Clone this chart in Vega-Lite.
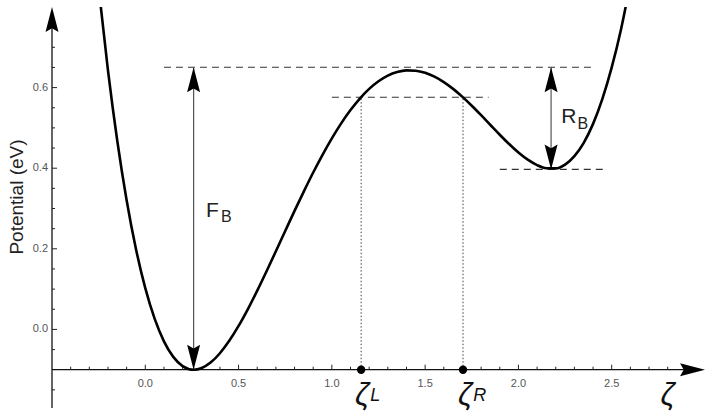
{
  "$schema": "https://vega.github.io/schema/vega-lite/v6.json",
  "width": 653,
  "height": 401,
  "autosize": {"type": "none"},
  "padding": {"left": 52, "top": 7, "right": 3, "bottom": 4},
  "background": "white",
  "config": {"view": {"stroke": null}, "text": {"font": "Liberation Sans"}},
  "datasets": {
    "curve": [
      {"x": -0.25, "y": 0.848}, {"x": -0.2, "y": 0.6427}, {"x": -0.15, "y": 0.4676}, {"x": -0.1, "y": 0.3207},
      {"x": -0.05, "y": 0.1996}, {"x": 0.0, "y": 0.1023}, {"x": 0.05, "y": 0.0266}, {"x": 0.1, "y": -0.0296},
      {"x": 0.15, "y": -0.0681}, {"x": 0.2, "y": -0.0909}, {"x": 0.26, "y": -0.1}, {"x": 0.3, "y": -0.0963},
      {"x": 0.35, "y": -0.0823}, {"x": 0.4, "y": -0.0591}, {"x": 0.45, "y": -0.0284}, {"x": 0.5, "y": 0.0086},
      {"x": 0.55, "y": 0.0506}, {"x": 0.6, "y": 0.0962}, {"x": 0.65, "y": 0.1444}, {"x": 0.7, "y": 0.194},
      {"x": 0.75, "y": 0.2442}, {"x": 0.8, "y": 0.2941}, {"x": 0.85, "y": 0.3426}, {"x": 0.9, "y": 0.3893},
      {"x": 0.95, "y": 0.4333}, {"x": 1.0, "y": 0.4742}, {"x": 1.05, "y": 0.5113}, {"x": 1.1, "y": 0.5443},
      {"x": 1.15, "y": 0.5729}, {"x": 1.2, "y": 0.5968}, {"x": 1.25, "y": 0.6158}, {"x": 1.3, "y": 0.6298},
      {"x": 1.35, "y": 0.6387}, {"x": 1.4, "y": 0.6428}, {"x": 1.45, "y": 0.642}, {"x": 1.5, "y": 0.6367},
      {"x": 1.55, "y": 0.6271}, {"x": 1.6, "y": 0.6137}, {"x": 1.65, "y": 0.5968}, {"x": 1.7, "y": 0.577},
      {"x": 1.75, "y": 0.555}, {"x": 1.8, "y": 0.5315}, {"x": 1.85, "y": 0.5072}, {"x": 1.9, "y": 0.483},
      {"x": 1.95, "y": 0.4599}, {"x": 2.0, "y": 0.4389}, {"x": 2.05, "y": 0.4211}, {"x": 2.1, "y": 0.4077},
      {"x": 2.15, "y": 0.4}, {"x": 2.2, "y": 0.3995}, {"x": 2.25, "y": 0.409}, {"x": 2.3, "y": 0.43},
      {"x": 2.35, "y": 0.463}, {"x": 2.4, "y": 0.51}, {"x": 2.45, "y": 0.572}, {"x": 2.5, "y": 0.65},
      {"x": 2.55, "y": 0.745}, {"x": 2.6, "y": 0.86}
    ],
    "hdash": [
      {"x": 0.1, "x2": 2.4, "y": 0.6506},
      {"x": 1.0, "x2": 1.84, "y": 0.576},
      {"x": 1.9, "x2": 2.46, "y": 0.397}
    ],
    "vdot": [
      {"x": 1.157, "y": -0.1, "y2": 0.576},
      {"x": 1.703, "y": -0.1, "y2": 0.576}
    ],
    "shaft": [
      {"x": 0.259, "y": -0.1, "y2": 0.6506},
      {"x": 2.175, "y": 0.397, "y2": 0.6506}
    ],
    "axes": [
      {"x": -0.5, "x2": 2.95, "y": -0.1, "y2": -0.1},
      {"x": -0.5, "x2": -0.5, "y": -0.195, "y2": 0.78}
    ],
    "heads": [
      {"x": 0.259, "y": 0.6506, "dir": "up"},
      {"x": 0.259, "y": -0.1, "dir": "down"},
      {"x": 2.175, "y": 0.6506, "dir": "up"},
      {"x": 2.175, "y": 0.397, "dir": "down"},
      {"x": -0.5, "y": 0.8, "dir": "up"},
      {"x": 3.0, "y": -0.1, "dir": "right"}
    ],
    "xminor": [
      {"x": -0.4}, {"x": -0.3}, {"x": -0.2}, {"x": -0.1}, {"x": 0.1}, {"x": 0.2}, {"x": 0.3}, {"x": 0.4},
      {"x": 0.6}, {"x": 0.7}, {"x": 0.8}, {"x": 0.9}, {"x": 1.1}, {"x": 1.2}, {"x": 1.3}, {"x": 1.4},
      {"x": 1.6}, {"x": 1.7}, {"x": 1.8}, {"x": 1.9}, {"x": 2.1}, {"x": 2.2}, {"x": 2.3}, {"x": 2.4},
      {"x": 2.6}, {"x": 2.7}, {"x": 2.8}
    ],
    "xmajor": [
      {"x": 0.0, "t": "0.0"}, {"x": 0.5, "t": "0.5"}, {"x": 1.0, "t": "1.0"},
      {"x": 1.5, "t": "1.5"}, {"x": 2.0, "t": "2.0"}, {"x": 2.5, "t": "2.5"}
    ],
    "yminor": [
      {"y": -0.15}, {"y": -0.05}, {"y": 0.05}, {"y": 0.1}, {"y": 0.15}, {"y": 0.25}, {"y": 0.3},
      {"y": 0.35}, {"y": 0.45}, {"y": 0.5}, {"y": 0.55}, {"y": 0.65}, {"y": 0.7}
    ],
    "ymajor": [
      {"y": 0.0, "t": "0.0"}, {"y": 0.2, "t": "0.2"}, {"y": 0.4, "t": "0.4"}, {"y": 0.6, "t": "0.6"}
    ],
    "dots": [{"x": 1.157}, {"x": 1.703}],
    "zeta": [{"x": 1.163, "s": "L"}, {"x": 1.715, "s": "R"}],
    "zmain": [{"x": 1.163}, {"x": 1.715}, {"x": 2.8}],
    "big": [
      {"x": 0.325, "y": 0.2796, "t": "F"},
      {"x": 2.229, "y": 0.5115, "t": "R"}
    ],
    "small": [
      {"x": 0.406, "y": 0.267, "t": "B"},
      {"x": 2.316, "y": 0.4966, "t": "B"}
    ],
    "ytitle": [{"x": -0.686, "y": 0.3285, "t": "Potential (eV)"}]
  },
  "layer": [
    {
      "data": {"name": "hdash"},
      "mark": {"type": "rule", "color": "#333", "strokeWidth": 1.1, "strokeDash": [7, 5]},
      "encoding": {
        "x": {"field": "x", "type": "quantitative", "scale": {"domain": [-0.5, 3], "nice": false, "zero": false}, "axis": null},
        "x2": {"field": "x2"},
        "y": {"field": "y", "type": "quantitative", "scale": {"domain": [-0.195, 0.8], "nice": false, "zero": false}, "axis": null}
      }
    },
    {
      "data": {"name": "vdot"},
      "mark": {"type": "rule", "color": "#444", "strokeWidth": 1, "strokeDash": [1.5, 2]},
      "encoding": {
        "x": {"field": "x", "type": "quantitative", "scale": {"domain": [-0.5, 3], "nice": false, "zero": false}, "axis": null},
        "y": {"field": "y", "type": "quantitative", "scale": {"domain": [-0.195, 0.8], "nice": false, "zero": false}, "axis": null},
        "y2": {"field": "y2"}
      }
    },
    {
      "data": {"name": "shaft"},
      "mark": {"type": "rule", "color": "#555", "strokeWidth": 1.2},
      "encoding": {
        "x": {"field": "x", "type": "quantitative", "scale": {"domain": [-0.5, 3], "nice": false, "zero": false}, "axis": null},
        "y": {"field": "y", "type": "quantitative", "scale": {"domain": [-0.195, 0.8], "nice": false, "zero": false}, "axis": null},
        "y2": {"field": "y2"}
      }
    },
    {
      "data": {"name": "axes"},
      "mark": {"type": "rule", "color": "#111", "strokeWidth": 1.3},
      "encoding": {
        "x": {"field": "x", "type": "quantitative", "scale": {"domain": [-0.5, 3], "nice": false, "zero": false}, "axis": null},
        "x2": {"field": "x2"},
        "y": {"field": "y", "type": "quantitative", "scale": {"domain": [-0.195, 0.8], "nice": false, "zero": false}, "axis": null},
        "y2": {"field": "y2"}
      }
    },
    {
      "data": {"name": "xminor"},
      "mark": {"type": "rule", "color": "#222", "strokeWidth": 1},
      "encoding": {
        "x": {"field": "x", "type": "quantitative", "scale": {"domain": [-0.5, 3], "nice": false, "zero": false}, "axis": null},
        "y": {"datum": -0.1, "type": "quantitative", "scale": {"domain": [-0.195, 0.8], "nice": false, "zero": false}, "axis": null},
        "y2": {"datum": -0.0925}
      }
    },
    {
      "data": {"name": "xmajor"},
      "mark": {"type": "rule", "color": "#222", "strokeWidth": 1},
      "encoding": {
        "x": {"field": "x", "type": "quantitative", "scale": {"domain": [-0.5, 3], "nice": false, "zero": false}, "axis": null},
        "y": {"datum": -0.1, "type": "quantitative", "scale": {"domain": [-0.195, 0.8], "nice": false, "zero": false}, "axis": null},
        "y2": {"datum": -0.0876}
      }
    },
    {
      "data": {"name": "yminor"},
      "mark": {"type": "rule", "color": "#222", "strokeWidth": 1},
      "encoding": {
        "x": {"datum": -0.5, "type": "quantitative", "scale": {"domain": [-0.5, 3], "nice": false, "zero": false}, "axis": null},
        "x2": {"datum": -0.4839},
        "y": {"field": "y", "type": "quantitative", "scale": {"domain": [-0.195, 0.8], "nice": false, "zero": false}, "axis": null}
      }
    },
    {
      "data": {"name": "ymajor"},
      "mark": {"type": "rule", "color": "#222", "strokeWidth": 1},
      "encoding": {
        "x": {"datum": -0.5, "type": "quantitative", "scale": {"domain": [-0.5, 3], "nice": false, "zero": false}, "axis": null},
        "x2": {"datum": -0.4732},
        "y": {"field": "y", "type": "quantitative", "scale": {"domain": [-0.195, 0.8], "nice": false, "zero": false}, "axis": null}
      }
    },
    {
      "data": {"name": "curve"},
      "mark": {"type": "line", "color": "black", "strokeWidth": 2.6, "clip": true, "interpolate": "monotone"},
      "encoding": {
        "x": {"field": "x", "type": "quantitative", "scale": {"domain": [-0.5, 3], "nice": false, "zero": false}, "axis": null},
        "y": {"field": "y", "type": "quantitative", "scale": {"domain": [-0.195, 0.8], "nice": false, "zero": false}, "axis": null}
      }
    },
    {
      "data": {"name": "heads"},
      "mark": {"type": "point", "filled": true, "color": "black", "opacity": 1, "size": 625, "strokeWidth": 0},
      "encoding": {
        "x": {"field": "x", "type": "quantitative", "scale": {"domain": [-0.5, 3], "nice": false, "zero": false}, "axis": null},
        "y": {"field": "y", "type": "quantitative", "scale": {"domain": [-0.195, 0.8], "nice": false, "zero": false}, "axis": null},
        "shape": {
          "field": "dir", "type": "nominal", "legend": null,
          "scale": {
            "domain": ["up", "down", "right"],
            "range": ["M0,0L0.52,2L0,1.7L-0.52,2Z", "M0,0L0.52,-2L0,-1.7L-0.52,-2Z", "M0,0L-2,0.52L-1.7,0L-2,-0.52Z"]
          }
        }
      }
    },
    {
      "data": {"name": "dots"},
      "mark": {"type": "circle", "color": "black", "opacity": 1, "size": 70},
      "encoding": {
        "x": {"field": "x", "type": "quantitative", "scale": {"domain": [-0.5, 3], "nice": false, "zero": false}, "axis": null},
        "y": {"datum": -0.1, "type": "quantitative", "scale": {"domain": [-0.195, 0.8], "nice": false, "zero": false}, "axis": null}
      }
    },
    {
      "data": {"name": "xmajor"},
      "mark": {"type": "text", "fontSize": 11, "color": "#555", "align": "center", "baseline": "middle", "dy": 14},
      "encoding": {
        "x": {"field": "x", "type": "quantitative", "scale": {"domain": [-0.5, 3], "nice": false, "zero": false}, "axis": null},
        "y": {"datum": -0.1, "type": "quantitative", "scale": {"domain": [-0.195, 0.8], "nice": false, "zero": false}, "axis": null},
        "text": {"field": "t"}
      }
    },
    {
      "data": {"name": "ymajor"},
      "mark": {"type": "text", "fontSize": 11, "color": "#555", "align": "right", "baseline": "middle", "dx": -4},
      "encoding": {
        "x": {"datum": -0.5, "type": "quantitative", "scale": {"domain": [-0.5, 3], "nice": false, "zero": false}, "axis": null},
        "y": {"field": "y", "type": "quantitative", "scale": {"domain": [-0.195, 0.8], "nice": false, "zero": false}, "axis": null},
        "text": {"field": "t"}
      }
    },
    {
      "data": {"name": "ytitle"},
      "mark": {"type": "text", "fontSize": 19, "color": "#222", "align": "center", "baseline": "middle", "angle": 270},
      "encoding": {
        "x": {"field": "x", "type": "quantitative", "scale": {"domain": [-0.5, 3], "nice": false, "zero": false}, "axis": null},
        "y": {"field": "y", "type": "quantitative", "scale": {"domain": [-0.195, 0.8], "nice": false, "zero": false}, "axis": null},
        "text": {"field": "t"}
      }
    },
    {
      "data": {"name": "big"},
      "mark": {"type": "text", "fontSize": 21, "color": "#222", "align": "left", "baseline": "alphabetic"},
      "encoding": {
        "x": {"field": "x", "type": "quantitative", "scale": {"domain": [-0.5, 3], "nice": false, "zero": false}, "axis": null},
        "y": {"field": "y", "type": "quantitative", "scale": {"domain": [-0.195, 0.8], "nice": false, "zero": false}, "axis": null},
        "text": {"field": "t"}
      }
    },
    {
      "data": {"name": "small"},
      "mark": {"type": "text", "fontSize": 16, "color": "#222", "align": "left", "baseline": "alphabetic"},
      "encoding": {
        "x": {"field": "x", "type": "quantitative", "scale": {"domain": [-0.5, 3], "nice": false, "zero": false}, "axis": null},
        "y": {"field": "y", "type": "quantitative", "scale": {"domain": [-0.195, 0.8], "nice": false, "zero": false}, "axis": null},
        "text": {"field": "t"}
      }
    },
    {
      "data": {"name": "zmain"},
      "mark": {"type": "text", "fontSize": 31, "fontStyle": "italic", "color": "#111", "align": "center", "baseline": "middle", "dy": 26},
      "encoding": {
        "x": {"field": "x", "type": "quantitative", "scale": {"domain": [-0.5, 3], "nice": false, "zero": false}, "axis": null},
        "y": {"datum": -0.1, "type": "quantitative", "scale": {"domain": [-0.195, 0.8], "nice": false, "zero": false}, "axis": null},
        "text": {"value": "ζ"}
      }
    },
    {
      "data": {"name": "zeta"},
      "mark": {"type": "text", "fontSize": 18, "fontStyle": "italic", "color": "#111", "align": "left", "baseline": "middle", "dx": 8, "dy": 26},
      "encoding": {
        "x": {"field": "x", "type": "quantitative", "scale": {"domain": [-0.5, 3], "nice": false, "zero": false}, "axis": null},
        "y": {"datum": -0.1, "type": "quantitative", "scale": {"domain": [-0.195, 0.8], "nice": false, "zero": false}, "axis": null},
        "text": {"field": "s"}
      }
    }
  ]
}
